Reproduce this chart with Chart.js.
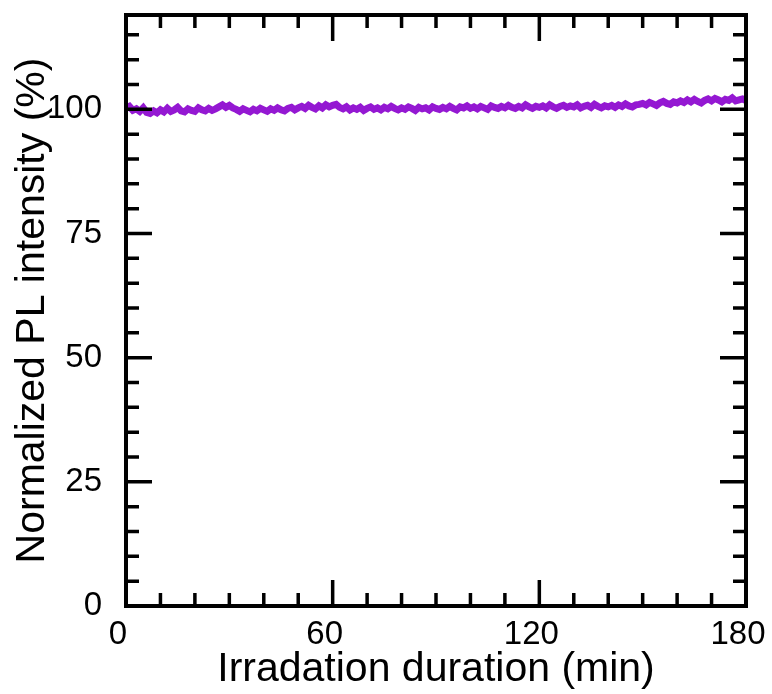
<!DOCTYPE html>
<html lang="en">
    <head>
        <meta charset="UTF-8" />
        <title>Normalized PL intensity</title>
        <script src="https://cdn.jsdelivr.net/npm/chart.js"></script>
        <style>
            body { margin: 0; background: #fff; }
            #wrap { width: 772px; height: 694px; position: relative; }
        </style>
    </head>
    <body>
        <div id="wrap"><canvas id="plChart"></canvas></div>

        <script>
            // one reading per minute, 0 -> 180 min
            const intensity = [
                100.2, 100.6, 99.8, 100.1, 99.6, 100.3, 99.4, 99.2, 99.7, 99.3,
                99.9, 99.5, 100.2, 99.6, 99.9, 100.4, 99.7, 99.5, 100.1, 99.8,
                99.6, 100.3, 99.9, 99.7, 100.2, 99.8, 100.1, 100.5, 100.9, 100.4,
                100.8, 100.3, 100.0, 99.6, 100.1, 99.8, 99.5, 100.0, 99.7, 100.2,
                99.9, 99.6, 100.1, 99.8, 100.3, 99.9, 99.7, 100.2, 100.4, 99.9,
                100.3, 100.6, 100.2, 100.8, 100.4, 100.1, 100.7, 100.3, 100.9, 100.5,
                100.8, 101.0, 100.4, 100.1, 100.5, 99.9, 100.3, 100.0, 100.4, 99.8,
                100.2, 100.5, 100.0, 100.3, 99.9, 100.4, 100.1, 100.6, 100.2, 99.9,
                100.3, 100.0, 100.5, 100.2, 99.8, 100.4, 100.1, 100.3, 99.9, 100.5,
                100.2, 100.0, 100.4, 100.1, 100.6, 100.2, 99.9, 100.5, 100.3, 100.7,
                100.2, 100.5, 100.1, 100.6, 100.3, 100.0, 100.7, 100.4, 100.2, 100.6,
                100.3, 100.8, 100.4, 100.2, 100.6, 100.3, 100.9, 100.5, 100.2, 100.6,
                100.4, 100.7, 100.3, 100.9, 100.5, 100.2, 100.6, 100.8, 100.4, 100.7,
                100.5, 100.9, 100.3, 100.6, 100.8, 100.4, 101.0, 100.6, 100.3, 100.7,
                100.5, 100.8, 100.4, 100.9, 100.6, 101.1, 100.7, 100.5, 100.9, 101.0,
                101.2, 100.9, 101.4, 101.1, 100.8, 101.3, 101.6, 101.2, 101.0, 101.5,
                101.3, 101.7, 101.4, 101.9, 101.5, 102.0, 101.6, 101.3, 101.8, 102.1,
                101.7, 102.2, 101.9, 101.5, 102.0, 101.8, 102.3, 101.7, 101.9, 102.1,
                101.8
            ];
            const sampleStep = 1; // min between readings

            const xMin = 0, xMax = 180, xMajor = 60, xMinor = 10;
            const yMin = 0, yMax = 119, yMajor = 25, yMinor = 5;
            const lineColor = "#9418d2";
            const fontFamily = "'Liberation Sans', Arial, sans-serif";

            const points = intensity.map((v, i) => ({ x: i * sampleStep, y: v }));

            // ticks pointing inward on all four sides + black frame
            const frameTicks = {
                id: "frameTicks",
                afterDatasetsDraw(chart) {
                    const { ctx, chartArea: a } = chart;
                    const x = chart.scales.x, y = chart.scales.y;
                    const longT = 26, shortT = 13;
                    ctx.save();
                    ctx.strokeStyle = "#000";
                    ctx.lineWidth = 3.5;
                    ctx.beginPath();
                    for (let v = xMin; v <= xMax; v += xMinor) {
                        const px = x.getPixelForValue(v);
                        const len = v % xMajor === 0 ? longT : shortT;
                        ctx.moveTo(px, a.bottom);
                        ctx.lineTo(px, a.bottom - len);
                        ctx.moveTo(px, a.top);
                        ctx.lineTo(px, a.top + len);
                    }
                    for (let v = yMin; v <= yMax; v += yMinor) {
                        const py = y.getPixelForValue(v);
                        const len = v % yMajor === 0 ? longT : shortT;
                        ctx.moveTo(a.left, py);
                        ctx.lineTo(a.left + len, py);
                        ctx.moveTo(a.right, py);
                        ctx.lineTo(a.right - len, py);
                    }
                    ctx.stroke();
                    ctx.lineWidth = 4;
                    ctx.strokeRect(a.left, a.top, a.width, a.height);
                    ctx.restore();
                },
            };

            new Chart(document.getElementById("plChart"), {
                type: "line",
                data: {
                    datasets: [
                        {
                            data: points,
                            borderColor: lineColor,
                            borderWidth: 7,
                            pointRadius: 0,
                            tension: 0,
                            fill: false,
                        },
                    ],
                },
                options: {
                    responsive: true,
                    maintainAspectRatio: false,
                    animation: false,
                    layout: { padding: { top: 15, right: 26, bottom: 0, left: 0 } },
                    plugins: {
                        legend: { display: false },
                        tooltip: { enabled: false },
                    },
                    scales: {
                        x: {
                            type: "linear",
                            min: xMin,
                            max: xMax,
                            grid: { display: false },
                            border: { display: false },
                            ticks: {
                                stepSize: xMajor,
                                includeBounds: false,
                                maxRotation: 0,
                                autoSkip: false,
                                padding: 1,
                                labelOffset: -8,
                                color: "#000",
                                font: { family: fontFamily, size: 33 },
                            },
                            title: {
                                display: true,
                                text: "Irradation duration (min)",
                                color: "#000",
                                padding: { top: 0, bottom: 0 },
                                font: { family: fontFamily, size: 41 },
                            },
                            afterFit(scale) {
                                scale.height = 88;
                                scale.paddingLeft = 0;
                                scale.paddingRight = 0;
                            },
                        },
                        y: {
                            min: yMin,
                            max: yMax,
                            grid: { display: false },
                            border: { display: false },
                            ticks: {
                                stepSize: yMajor,
                                includeBounds: false,
                                autoSkip: false,
                                padding: 16,
                                color: "#000",
                                font: { family: fontFamily, size: 33 },
                            },
                            title: {
                                display: true,
                                text: "Normalized PL intensity (%)",
                                color: "#000",
                                padding: { top: 8, bottom: 0 },
                                font: { family: fontFamily, size: 41 },
                            },
                            afterFit(scale) {
                                scale.width = 126;
                                scale.paddingTop = 0;
                                scale.paddingBottom = 0;
                            },
                        },
                    },
                },
                plugins: [frameTicks],
            });
        </script>
    </body>
</html>
